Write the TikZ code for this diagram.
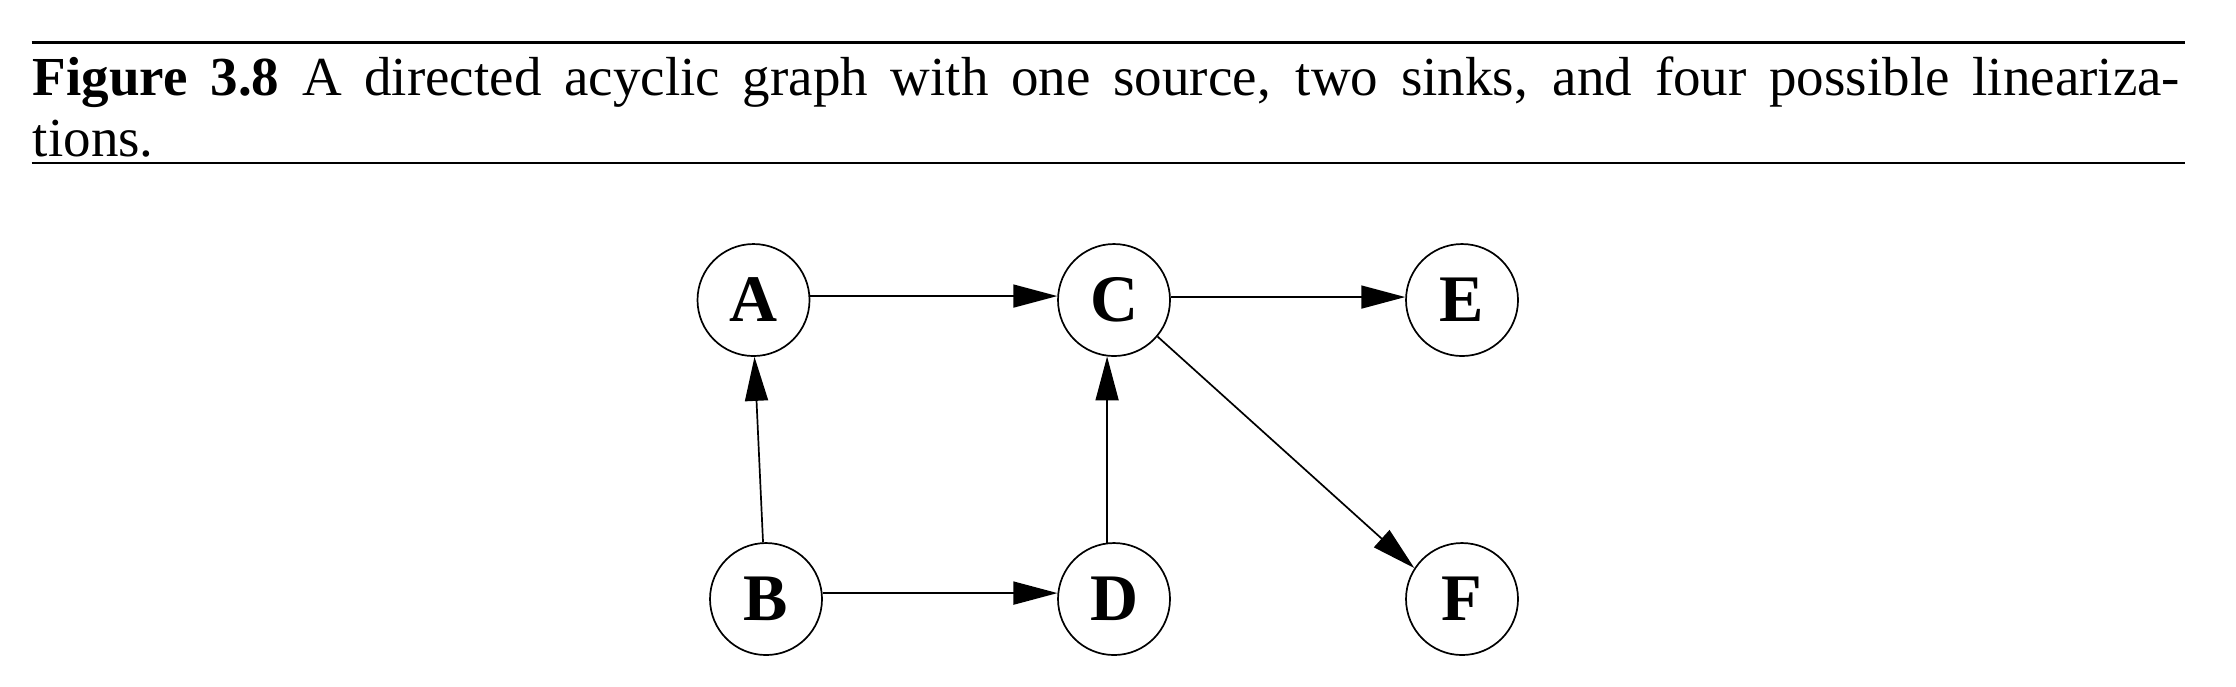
\documentclass[tikz,border=0pt]{standalone}
\usepackage{fontspec}
\setmainfont{Liberation Serif}
\usetikzlibrary{arrows.meta}

\tikzset{
  vertex/.style={draw, circle, line width=0.34pt, minimum size=22.4pt,
    inner sep=0pt, font=\fontsize{13.3}{15}\selectfont\bfseries},
  edge/.style={line width=0.34pt, -{Triangle[length=8.8pt, width=4.6pt]}},
}

\begin{document}
\begin{tikzpicture}[x=0.2pt, y=-0.2pt]
            \useasboundingbox (0,0) rectangle (2236,686);
                % caption with its two rules
                \draw [line width=0.54pt] (31.7,42.3) -- (2185,42.3);
                \node (caption) [anchor=north west, inner sep=0pt, text width=429.4pt, align=justify,
                  font=\fontsize{11}{12.2}\selectfont] at (32,56)
                  {\textbf{Figure 3.8} A directed acyclic graph with one source, two sinks, and four possible lineariza-\linebreak tions.};
                \draw [line width=0.34pt] (31.7,163) -- (2185,163);
                % vertices
                \node [vertex] (A) at (753.5,300) {A};
                \node [vertex] (C) at (1114,300) {C};
                \node [vertex] (E) at (1462,300) {E};
                \node [vertex] (B) at (766,599) {B};
                \node [vertex] (D) at (1114,599) {D};
                \node [vertex] (F) at (1462,599) {F};
                % edges
                \draw [edge] (A.4) -- (C.176);
                \draw [edge] (C.3) -- (E.177);
                \draw [edge] (B.93) -- (A.271.5);
                \draw [edge] (B.6) -- (D.174);
                \draw [edge] (D.97) -- (C.263);
                \draw [edge] (C.-40) -- (F.147);
            \end{tikzpicture}
\end{document}
